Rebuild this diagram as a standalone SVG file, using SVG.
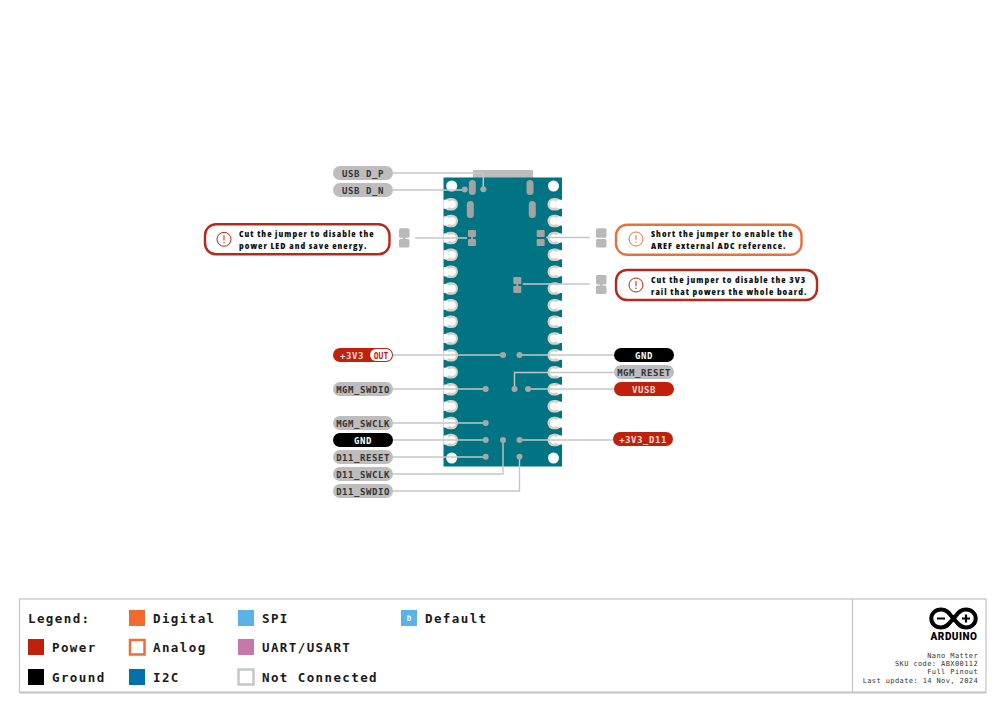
<svg xmlns="http://www.w3.org/2000/svg" xmlns:xlink="http://www.w3.org/1999/xlink" width="1007" height="713" viewBox="0 0 1007 713">
<style>
.pin{font-family:"DejaVu Sans Mono","Liberation Mono",monospace;font-weight:700;font-size:9px;letter-spacing:.55px;text-anchor:middle}
.lg{font-family:"DejaVu Sans Mono","Liberation Mono",monospace;font-weight:700;font-size:12.5px;letter-spacing:1.4px;fill:#1a1a1a}
.sm{font-family:"DejaVu Sans Mono","Liberation Mono",monospace;font-size:7px;letter-spacing:.4px;fill:#333;text-anchor:end}
.note{font-family:"Open Sans","Noto Sans",sans-serif;font-weight:800;font-size:9px;letter-spacing:1.02px;font-stretch:75%;fill:#111}
.grey{fill:#bdbdbd}
.pwr{fill:#c1210c}.blk{fill:#000}
.line{fill:none;stroke:#c6c6c6;stroke-width:1.4}
.dot{fill:#a8a8a8}
.j{fill:#a3a3a3}
.j2{fill:#b9b9b9}
.call{fill:#fff;stroke-width:2.4}
.ic{fill:none;stroke-width:1}
</style>
<defs>
<g id="padL"><rect x="443.500" y="-6.300" width="14.500" height="12.600" rx="6.300" fill="#d8d0c6"/><circle cx="452" cy="0" r="3.800" fill="#fff"/><path d="M443.500-4.500H445.500A4.500 4.500 0 0 1 445.500 4.500H443.500z" fill="#fff"/></g>
<g id="padR"><rect x="547.500" y="-6.300" width="14.500" height="12.600" rx="6.300" fill="#d8d0c6"/><circle cx="553.700" cy="0" r="3.800" fill="#fff"/><path d="M562-4.500H560A4.500 4.500 0 0 0 560 4.500H562z" fill="#fff"/></g>
<g id="warn"><circle r="7" class="ic" stroke="#c1210c"/><path d="M0-4V1.200M0 2.600V4" class="ic" stroke="#c1210c"/></g>
<g id="warnO"><circle r="7" class="ic" stroke="#e9703a"/><path d="M0-4V1.200M0 2.600V4" class="ic" stroke="#e9703a"/></g>
</defs>
<rect width="1007" height="713" fill="#fff"/>
<g id="board">
<rect x="473" y="170" width="60" height="8" fill="#bdbdbd"/>
<rect x="443.500" y="177.500" width="118.500" height="289" fill="#007482"/>
<circle cx="451.700" cy="186" r="5.500" fill="#fff"/><circle cx="553.500" cy="186" r="5.500" fill="#fff"/>
<circle cx="451.700" cy="458" r="5.500" fill="#fff"/><circle cx="553.500" cy="458" r="5.500" fill="#fff"/>
<use xlink:href="#padL" y="204.300"/><use xlink:href="#padL" y="221"/><use xlink:href="#padL" y="238"/><use xlink:href="#padL" y="254.700"/><use xlink:href="#padL" y="271.700"/><use xlink:href="#padL" y="288.500"/><use xlink:href="#padL" y="305.300"/><use xlink:href="#padL" y="321.700"/><use xlink:href="#padL" y="338.500"/><use xlink:href="#padL" y="355.300"/><use xlink:href="#padL" y="372.300"/><use xlink:href="#padL" y="389.200"/><use xlink:href="#padL" y="406.200"/><use xlink:href="#padL" y="423"/><use xlink:href="#padL" y="440"/>
<use xlink:href="#padR" y="204.300"/><use xlink:href="#padR" y="221"/><use xlink:href="#padR" y="238"/><use xlink:href="#padR" y="254.700"/><use xlink:href="#padR" y="271.700"/><use xlink:href="#padR" y="288.500"/><use xlink:href="#padR" y="305.300"/><use xlink:href="#padR" y="321.700"/><use xlink:href="#padR" y="338.500"/><use xlink:href="#padR" y="355.300"/><use xlink:href="#padR" y="372.300"/><use xlink:href="#padR" y="389.200"/><use xlink:href="#padR" y="406.200"/><use xlink:href="#padR" y="423"/><use xlink:href="#padR" y="440"/>
<rect x="468.800" y="180" width="7" height="15" rx="3.500" class="j"/><rect x="526.500" y="180" width="7" height="15" rx="3.500" class="j"/>
<rect x="466.800" y="201" width="7" height="17" rx="3.500" class="j"/><rect x="528.800" y="201" width="7" height="17" rx="3.500" class="j"/>
<rect x="468" y="230" width="8" height="7" rx="1" class="j"/><rect x="468" y="239" width="8" height="7" rx="1" class="j"/><rect x="471" y="236" width="2" height="4" class="j"/>
<rect x="536.700" y="230" width="8" height="7" rx="1" class="j"/><rect x="536.700" y="239" width="8" height="7" rx="1" class="j"/>
<rect x="513.300" y="277" width="8" height="7" rx="1" class="j"/><rect x="513.300" y="286" width="8" height="7" rx="1" class="j"/><rect x="516.300" y="283" width="2" height="4" class="j"/>
</g>
<g id="connectors">
<path class="line" d="M393 173H483.300V189"/>
<path class="line" d="M393 190H465"/>
<path class="line" d="M415 238H467"/>
<path class="line" d="M546 237.500H590"/>
<path class="line" d="M522.700 284H590"/>
<path class="line" d="M393 355H503"/>
<path class="line" d="M519.500 355H614"/>
<path class="line" d="M614 372.500H514.500V389"/>
<path class="line" d="M528 389H614"/>
<path class="line" d="M393 389H485.700"/>
<path class="line" d="M393 423H485.700"/>
<path class="line" d="M393 440H485.700"/>
<path class="line" d="M393 457H485.700"/>
<path class="line" d="M393 474H503V440"/>
<path class="line" d="M393 491H519.500V457"/>
<path class="line" d="M519.500 440H613"/>
<circle class="dot" cx="483.300" cy="189.300" r="3"/><circle class="dot" cx="464.700" cy="189.500" r="3"/>
<circle class="dot" cx="503" cy="355" r="3"/><circle class="dot" cx="519.500" cy="355" r="3"/>
<circle class="dot" cx="514.500" cy="389" r="3"/><circle class="dot" cx="528" cy="389" r="3"/><circle class="dot" cx="485.700" cy="389" r="3"/>
<circle class="dot" cx="485.700" cy="423" r="3"/><circle class="dot" cx="485.700" cy="440" r="3"/><circle class="dot" cx="485.700" cy="456.700" r="3"/>
<circle class="dot" cx="503" cy="440" r="3"/><circle class="dot" cx="519.500" cy="440" r="3"/><circle class="dot" cx="519.500" cy="456.700" r="3"/>
</g>
<g id="usb-d-p"><rect x="333" y="166" width="60" height="14" rx="7" class="grey"/><text x="363" y="176.800" class="pin" fill="#333">USB D_P</text></g>
<g id="usb-d-n"><rect x="333" y="183" width="60" height="14" rx="7" class="grey"/><text x="363" y="193.800" class="pin" fill="#333">USB D_N</text></g>
<g id="note-led">
<rect x="205" y="224.300" width="184.500" height="30" rx="11" class="call" stroke="#b5291a"/>
<use xlink:href="#warn" x="224" y="239.300"/>
<text x="239" y="236.700" class="note">Cut the jumper to disable the</text>
<text x="239" y="249" class="note">power LED and save energy.</text>
<rect x="399" y="228.300" width="10.500" height="9.500" rx="1.500" class="j2"/><rect x="399" y="239" width="10.500" height="8.500" rx="1.500" class="j2"/><rect x="403" y="237" width="2.500" height="3" class="j2"/>
</g>
<g id="note-aref">
<rect x="616" y="224.700" width="185.500" height="30" rx="11" class="call" stroke="#e9703a"/>
<use xlink:href="#warnO" x="636" y="239"/>
<text x="651" y="236.700" class="note">Short the jumper to enable the</text>
<text x="651" y="248.500" class="note">AREF external ADC reference.</text>
<rect x="596" y="228.300" width="10.500" height="9.500" rx="1.500" class="j2"/><rect x="596" y="239" width="10.500" height="8.500" rx="1.500" class="j2"/>
</g>
<g id="note-3v3">
<rect x="616" y="270" width="201" height="30" rx="11" class="call" stroke="#b5291a"/>
<use xlink:href="#warn" x="636" y="285"/>
<text x="651" y="282.700" class="note">Cut the jumper to disable the 3V3</text>
<text x="651" y="294.500" class="note">rail that powers the whole board.</text>
<rect x="596" y="275" width="10.500" height="9.500" rx="1.500" class="j2"/><rect x="596" y="285.500" width="10.500" height="8.500" rx="1.500" class="j2"/><rect x="600" y="284" width="2.500" height="3" class="j2"/>
</g>
<g id="pin-3v3-out"><rect x="333" y="348" width="60" height="14" rx="7" class="pwr"/><rect x="370" y="349" width="22" height="12" rx="6" fill="#fff"/><text x="352" y="358.800" class="pin" fill="#f4d9d4">+3V3</text><text x="381" y="358.500" class="pin" fill="#c1210c" style="font-size:8px;letter-spacing:0">OUT</text></g>
<g id="pin-mgm-swdio"><rect x="333" y="382" width="60" height="14" rx="7" class="grey"/><text x="363" y="392.800" class="pin" fill="#333">MGM_SWDIO</text></g>
<g id="pin-mgm-swclk"><rect x="333" y="416" width="60" height="14" rx="7" class="grey"/><text x="363" y="426.800" class="pin" fill="#333">MGM_SWCLK</text></g>
<g id="pin-gnd-l"><rect x="333" y="433" width="60" height="14" rx="7" class="blk"/><text x="363" y="443.800" class="pin" fill="#fff">GND</text></g>
<g id="pin-d11-reset"><rect x="333" y="450" width="60" height="14" rx="7" class="grey"/><text x="363" y="460.800" class="pin" fill="#333">D11_RESET</text></g>
<g id="pin-d11-swclk"><rect x="333" y="467" width="60" height="14" rx="7" class="grey"/><text x="363" y="477.800" class="pin" fill="#333">D11_SWCLK</text></g>
<g id="pin-d11-swdio"><rect x="333" y="484" width="60" height="14" rx="7" class="grey"/><text x="363" y="494.800" class="pin" fill="#333">D11_SWDIO</text></g>
<g id="pin-gnd-r"><rect x="614" y="348" width="60" height="14" rx="7" class="blk"/><text x="644" y="358.800" class="pin" fill="#fff">GND</text></g>
<g id="pin-mgm-reset"><rect x="614" y="365" width="60" height="14" rx="7" class="grey"/><text x="644" y="375.800" class="pin" fill="#333">MGM_RESET</text></g>
<g id="pin-vusb"><rect x="614" y="382" width="60" height="14" rx="7" class="pwr"/><text x="644" y="392.800" class="pin" fill="#f4d9d4">VUSB</text></g>
<g id="pin-3v3-d11"><rect x="613" y="432" width="60" height="14" rx="7" class="pwr"/><text x="643" y="442.800" class="pin" fill="#f4d9d4">+3V3_D11</text></g>
<g id="legend">
<rect x="19.500" y="599" width="966.500" height="93.500" fill="#fff" stroke="#c6c6c6" stroke-width="1.300"/>
<path d="M19.500 692.500H986" stroke="#c6c6c6" stroke-width="2" fill="none"/>
<path d="M852.500 599V692" stroke="#c6c6c6" stroke-width="1.300" fill="none"/>
<text x="28" y="623" class="lg">Legend:</text>
<rect x="129" y="610" width="16" height="16" fill="#f26a2e"/><text x="153" y="623" class="lg">Digital</text>
<rect x="28" y="639" width="16" height="16" fill="#c1210c"/><text x="52" y="652" class="lg">Power</text>
<rect x="130" y="640" width="14.500" height="14.500" fill="#fff" stroke="#e9703a" stroke-width="2.500"/><text x="153" y="652" class="lg">Analog</text>
<rect x="28" y="669" width="16" height="16" fill="#000"/><text x="52" y="681.700" class="lg">Ground</text>
<rect x="129" y="669" width="16" height="16" fill="#0071ab"/><text x="153" y="681.700" class="lg">I2C</text>
<rect x="238" y="610" width="16" height="16" fill="#58b4e8"/><text x="262" y="623" class="lg">SPI</text>
<rect x="238" y="639" width="16" height="16" fill="#c878a8"/><text x="262" y="652" class="lg">UART/USART</text>
<rect x="238.500" y="669.500" width="15" height="15" fill="#fff" stroke="#c6c6c6" stroke-width="2.500"/><text x="262" y="681.700" class="lg">Not Connected</text>
<rect x="401" y="610" width="16" height="16" fill="#58b4e8"/><text x="409" y="621" fill="#fff" text-anchor="middle" style="font-family:'DejaVu Sans Mono',monospace;font-size:7.500px;font-weight:700">D</text><text x="425" y="623" class="lg">Default</text>
</g>
<g id="logo">
<path d="M941 609.500c-5.600 0-9.700 4-9.700 9s4.100 9 9.700 9c7 0 9-5.500 12.500-9c3.500-3.500 5.500-9 12.500-9c5.600 0 9.700 4 9.700 9s-4.100 9-9.700 9c-7 0-9-5.500-12.500-9c-3.500-3.500-5.500-9-12.500-9z" fill="none" stroke="#000" stroke-width="4"/>
<path d="M937 618.500H945M962 618.500H970M966 614.500V622.500" stroke="#000" stroke-width="2.200" fill="none"/>
<text x="954" y="640" text-anchor="middle" style="font-family:Roboto,'Liberation Sans',sans-serif;font-weight:900;font-size:10px;letter-spacing:.5px" fill="#000">ARDUINO</text>
<text x="978" y="657.700" class="sm">Nano Matter</text>
<text x="978" y="666" class="sm">SKU code: ABX00112</text>
<text x="978" y="674.300" class="sm">Full Pinout</text>
<text x="978" y="683" class="sm">Last update: 14 Nov, 2024</text>
</g>
</svg>
